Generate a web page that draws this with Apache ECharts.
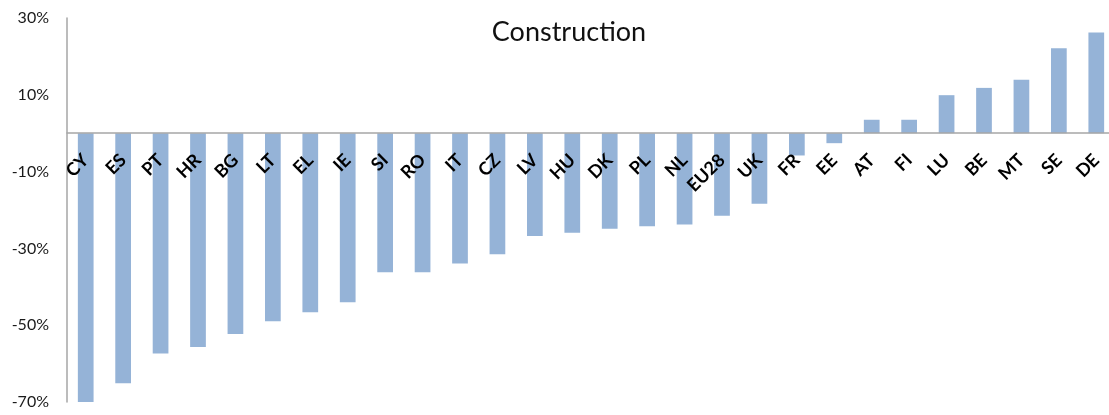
<!DOCTYPE html>
<html>
<head>
<meta charset="utf-8">
<script src="https://cdn.jsdelivr.net/npm/echarts@6/dist/echarts.min.js"></script>
<style>
  html, body { margin: 0; padding: 0; background: #ffffff; }
  #chart { width: 1109px; height: 415px; }
</style>
</head>
<body>
<div id="chart"></div>
<script>
// Change in construction output by country (%)
const countries = ['CY', 'ES', 'PT', 'HR', 'BG', 'LT', 'EL', 'IE', 'SI', 'RO', 'IT', 'CZ', 'LV', 'HU',
  'DK', 'PL', 'NL', 'EU28', 'UK', 'FR', 'EE', 'AT', 'FI', 'LU', 'BE', 'MT', 'SE', 'DE'];
const changePct = [-71.0, -65.1, -57.4, -55.7, -52.3, -49.0, -46.6, -44.0, -36.2, -36.2, -33.9, -31.5, -26.8, -25.9,
  -24.9, -24.2, -23.8, -21.5, -18.4, -5.8, -2.6, 3.5, 3.5, 9.9, 11.8, 13.9, 22.1, 26.2];
const yTicks = [30, 10, -10, -30, -50, -70];

const yMin = -70;
const yMax = 30;

// Plot area
const gridTop = 18;
const gridBottom = 13;
const gridHeight = 415 - gridTop - gridBottom;
// The category axis (line + labels) sits on the 0% line
const zeroOffset = -gridHeight * (0 - yMin) / (yMax - yMin);

const chart = echarts.init(document.getElementById('chart'), null, { renderer: 'canvas' });

chart.setOption({
  backgroundColor: '#ffffff',
  animation: false,
  title: {
    text: 'Construction',
    left: 564,
    top: 14,
    textAlign: 'center',
    textStyle: { fontFamily: 'Lato', fontSize: 27, fontWeight: 'normal', color: '#111111' }
  },
  grid: {
    left: 67, top: gridTop, width: 1048, bottom: gridBottom,
    containLabel: false, outerBoundsMode: 'none'
  },
  xAxis: {
    type: 'category',
    data: countries,
    position: 'bottom',
    offset: zeroOffset,
    z: 10,
    axisLine: { onZero: false, lineStyle: { color: '#a6a6a6', width: 1.5 } },
    axisTick: { show: false },
    axisLabel: {
      interval: 0,
      rotate: 45,
      margin: 24,
      fontFamily: 'Lato',
      fontWeight: 'bold',
      fontSize: 18,
      color: '#000000'
    },
    splitLine: { show: false }
  },
  yAxis: {
    type: 'value',
    min: yMin,
    max: yMax,
    interval: 20,
    axisLine: { show: true, lineStyle: { color: '#a6a6a6', width: 1.5 } },
    axisTick: { show: false },
    splitLine: { show: false },
    axisLabel: {
      margin: 18,
      fontFamily: 'Lato',
      fontSize: 16,
      color: '#1a1a1a',
      formatter: v => (yTicks.includes(v) ? v + '%' : '')
    }
  },
  series: [{
    type: 'bar',
    data: changePct,
    barWidth: '42%',
    itemStyle: { color: '#95b3d7' }
  }]
});
</script>
</body>
</html>
